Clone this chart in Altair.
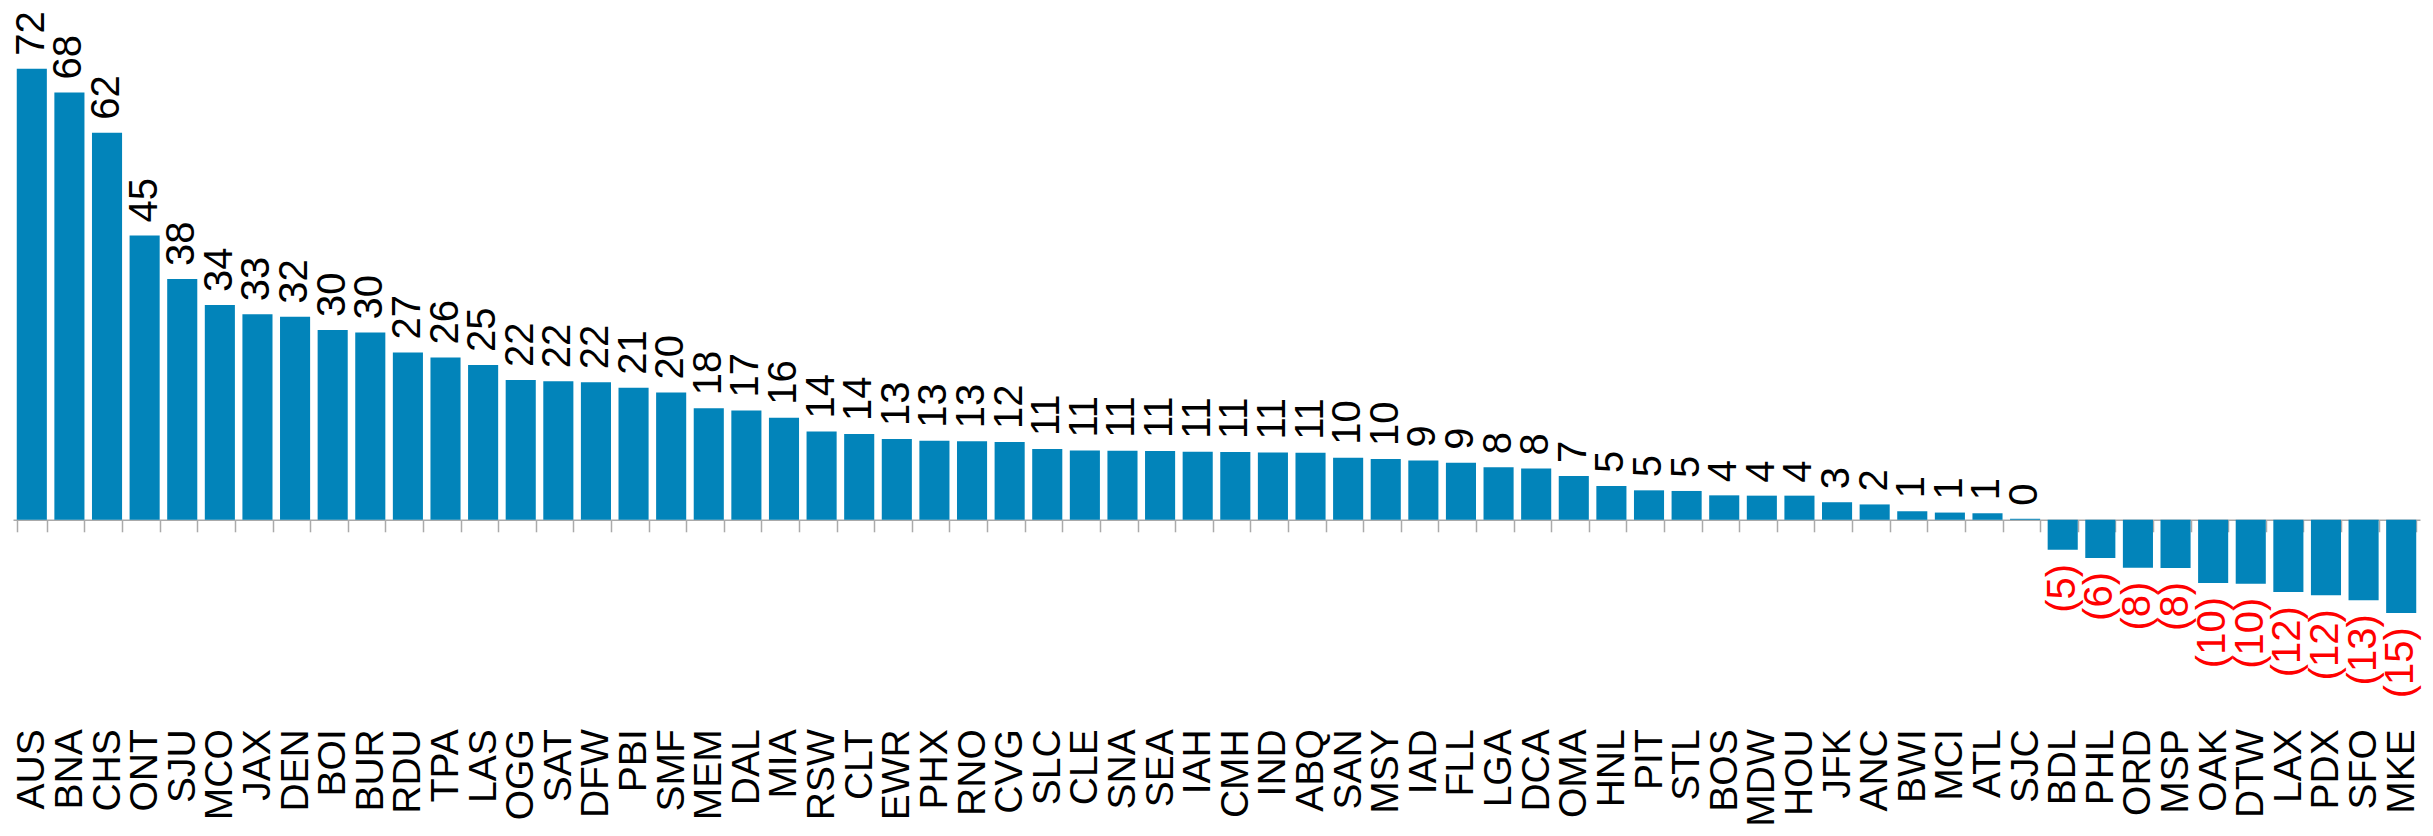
import altair as alt
import pandas as pd

airports = ["AUS", "BNA", "CHS", "ONT", "SJU", "MCO", "JAX", "DEN", "BOI", "BUR",
            "RDU", "TPA", "LAS", "OGG", "SAT", "DFW", "PBI", "SMF", "MEM", "DAL",
            "MIA", "RSW", "CLT", "EWR", "PHX", "RNO", "CVG", "SLC", "CLE", "SNA",
            "SEA", "IAH", "CMH", "IND", "ABQ", "SAN", "MSY", "IAD", "FLL", "LGA",
            "DCA", "OMA", "HNL", "PIT", "STL", "BOS", "MDW", "HOU", "JFK", "ANC",
            "BWI", "MCI", "ATL", "SJC", "BDL", "PHL", "ORD", "MSP", "OAK", "DTW",
            "LAX", "PDX", "SFO", "MKE"]

values = [72.0, 68.2, 61.8, 45.4, 38.45, 34.3, 32.8, 32.4, 30.3, 29.9,
          26.7, 25.9, 24.7, 22.3, 22.1, 21.95, 21.06, 20.3, 17.8, 17.45,
          16.3, 14.1, 13.7, 12.9, 12.6, 12.55, 12.4, 11.3, 11.06, 11.0,
          10.96, 10.85, 10.8, 10.75, 10.7, 9.9, 9.7, 9.45, 9.1, 8.4,
          8.2, 7.0, 5.4, 4.7, 4.6, 3.9, 3.85, 3.85, 2.8, 2.45,
          1.36, 1.15, 1.04, 0.16, -4.8, -6.1, -7.65, -7.7, -10.1, -10.2,
          -11.55, -12.05, -12.85, -14.9]

df = pd.DataFrame({"airport": airports, "value": values})
df["label"] = [str(int(round(v))) if v >= 0 else "(" + str(int(round(abs(v)))) + ")" for v in values]

FONT = "Liberation Sans"
Y_MIN, Y_MAX = -16, 81.7
W, H = 2407, 612
zero_from_bottom = H * (0 - Y_MIN) / (Y_MAX - Y_MIN)

x_enc = alt.X(
    "airport:N", sort=None, title=None,
    scale=alt.Scale(paddingInner=0.2, paddingOuter=0.1),
    axis=alt.Axis(
        orient="bottom", offset=-zero_from_bottom, labelAngle=270,
        labelAlign="right", labelBaseline="middle", labelFont=FONT,
        labelFontSize=39, labelColor="#000000", labelPadding=197,
        labelOverlap=False, labelBound=False, tickBand="extent",
        tickSize=12, tickColor="#aaaaaa", domainColor="#aaaaaa",
        domainWidth=1.5, tickWidth=1.5, grid=False,
    ),
)
y_enc = alt.Y("value:Q", scale=alt.Scale(domain=[Y_MIN, Y_MAX], nice=False, zero=False), axis=None)

base = alt.Chart(df)

bars = base.mark_bar(color="#0284ba").encode(x=x_enc, y=y_enc, y2=alt.datum(0))

pos_text = base.transform_filter("datum.value >= 0").mark_text(
    angle=270, align="left", baseline="middle", dx=13, font=FONT, fontSize=40, color="#000000"
).encode(x=x_enc, y=y_enc, text="label:N")

neg_text = base.transform_filter("datum.value < 0").mark_text(
    angle=270, align="right", baseline="middle", dx=-14, font=FONT, fontSize=40, color="#ff0000"
).encode(x=x_enc, y=y_enc, text="label:N")

chart = alt.layer(bars, pos_text, neg_text).properties(
    width=W, height=H,
    padding={"left": 5, "top": 0, "right": 5, "bottom": 208},
    autosize=alt.AutoSizeParams(type="none"),
    background="#ffffff",
).configure_view(stroke=None, strokeWidth=0)

chart.save("out.html", embed_options={"renderer": "svg", "actions": False})
